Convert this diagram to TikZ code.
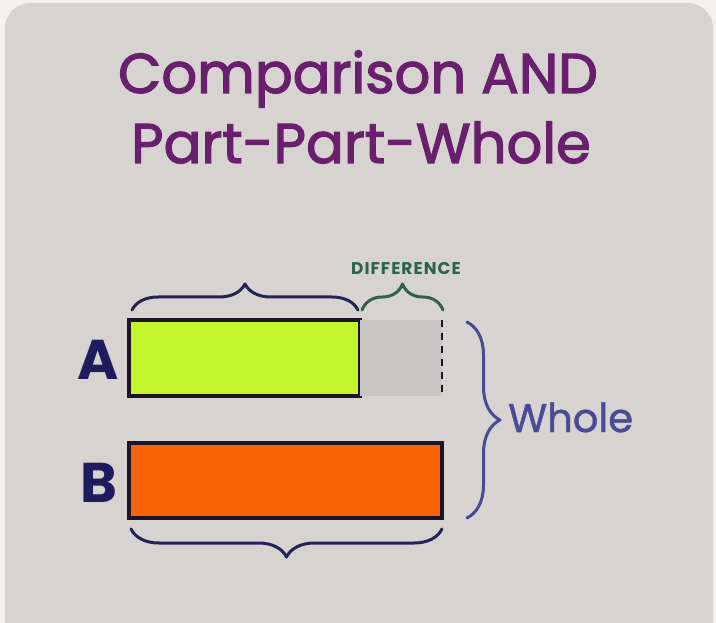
\documentclass[tikz,border=0pt]{standalone}
\usepackage{fontspec}
\setmainfont{Poppins}
\newfontfamily\titlefont[UprightFeatures={FakeBold=2.2}]{Poppins}
\newfontfamily\wholefont[UprightFeatures={FakeBold=1.2}]{Poppins}
\newfontfamily\difffont[LetterSpace=6]{Poppins}
\usetikzlibrary{decorations.pathreplacing}

\definecolor{outside}{HTML}{F4F2EF}
\definecolor{card}{HTML}{D6D3D0}
\definecolor{titlepurple}{HTML}{6A1E6E}
\definecolor{limebar}{HTML}{C3F42C}
\definecolor{orangebar}{HTML}{FA6208}
\definecolor{diffgray}{HTML}{CBC6C6}
\definecolor{barline}{HTML}{1A1424}
\definecolor{navy}{HTML}{23235A}
\definecolor{teal}{HTML}{2F6150}
\definecolor{wholeblue}{HTML}{4B4A95}
\definecolor{letterblue}{HTML}{1F1B5E}

\begin{document}
\begin{tikzpicture}[x=1pt,y=-1pt,
  titletext/.style={font=\titlefont\fontsize{56}{60}\selectfont, text=titlepurple, anchor=base, inner sep=0},
  barbox/.style={draw=barline, line width=3.5pt, inner sep=0, outer sep=0, anchor=north west},
  diffbox/.style={fill=diffgray, inner sep=0, outer sep=0, anchor=north west},
  bracepath/.style={decorate, line width=3pt, line cap=round, line join=round,
    decoration={brace, amplitude=#1}},
  letter/.style={font=\bfseries\fontsize{56}{60}\selectfont, text=letterblue, inner sep=0},
]
\useasboundingbox (0,0) rectangle (716,623);
\fill[outside] (0,0) rectangle (716,623);
\begin{scope}
  \clip (0,0) rectangle (716,623);
  \fill[card, rounded corners=25pt] (5,3) rectangle (713,660);
\end{scope}

% title
\node[titletext] (t1) at (358,93) {Comparison AND};
\node[titletext] (t2) at (361,163) {Part-Part-Whole};

% bars
\node[barbox, fill=limebar, minimum width=231pt, minimum height=76pt] (barA) at (129,320) {};
\node[diffbox, minimum width=82pt, minimum height=76pt] (diff) at (barA.north east) {};
\draw[barline, line width=2pt, dash pattern=on 7pt off 6pt] (diff.north east) -- (diff.south east);
\node[barbox, fill=orangebar, minimum width=313pt, minimum height=75pt] (barB) at (129,443) {};

% labels A and B
\node[letter] (la) at (98,360) {A};
\node[letter] (lb) at (99,483) {B};

% braces
\coordinate (a1) at ([shift={(3,-10)}]barA.north west);
\coordinate (a2) at ([shift={(-2,-10)}]barA.north east);
\draw[navy, bracepath=26pt] (a1) -- (a2);

\coordinate (d1) at ([shift={(2,-10)}]diff.north west);
\coordinate (d2) at ([shift={(1,-10)}]diff.north east);
\draw[teal, bracepath=26pt] (d1) -- (d2);
\node[font=\difffont\bfseries\fontsize{17}{18}\selectfont, text=teal, anchor=base, inner sep=0] (difftext) at (406,275) {DIFFERENCE};

\coordinate (b1) at ([shift={(0,11)}]barB.south east);
\coordinate (b2) at ([shift={(2,11)}]barB.south west);
\draw[navy, bracepath=28pt] (b1) -- (b2);

\coordinate (w1) at (467,322);
\coordinate (w2) at (467,518);
\draw[wholeblue, bracepath=33pt] (w1) -- (w2);
\node[font=\wholefont\fontsize{40}{44}\selectfont, text=wholeblue, anchor=base west, inner sep=0] (whole) at (508,432) {Whole};
\end{tikzpicture}
\end{document}
